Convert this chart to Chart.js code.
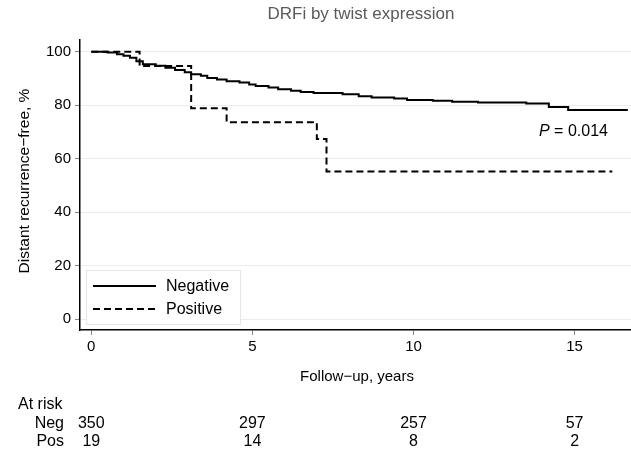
<!DOCTYPE html>
<html lang="en">
<head>
    <meta charset="UTF-8">
    <title>DRFi by twist expression</title>
    <script src="https://cdn.jsdelivr.net/npm/chart.js"></script>
    <style>
        body { margin: 0; background: #fff; }
        #wrap { width: 631px; height: 450px; }
    </style>
</head>
<body>
    <div id="wrap"><canvas id="kmChart" width="631" height="450"></canvas></div>
    <script>
        // Kaplan-Meier steps (time in years, survival in %)
        const negTimes = [0, 0.5, 0.8, 1.0, 1.2, 1.4, 1.6, 2.0, 2.3, 2.6, 2.9, 3.1, 3.4, 3.6, 3.9, 4.2, 4.6, 4.9, 5.1, 5.5, 5.8, 6.2, 6.5, 6.9, 7.8, 8.3, 8.7, 9.4, 9.8, 10.6, 11.2, 12.0, 13.5, 14.2, 14.8, 16.65];
        const negSurv  = [100, 99.7, 99.1, 98.5, 97.8, 96.5, 95.3, 94.8, 94.0, 93.2, 92.3, 91.6, 91.0, 90.2, 89.6, 89.0, 88.5, 87.8, 87.2, 86.6, 86.0, 85.4, 85.0, 84.6, 84.1, 83.4, 82.9, 82.5, 82.0, 81.7, 81.3, 81.0, 80.7, 79.4, 78.2, 78.2];
        const posTimes = [0, 1.5, 3.1, 4.2, 7.0, 7.3, 16.17];
        const posSurv  = [100, 94.7, 78.9, 73.7, 67.4, 55.2, 55.2];

        const xTicks = [0, 5, 10, 15];
        const yTicks = [0, 20, 40, 60, 80, 100];

        // numbers at risk
        const riskTimes = [0, 5, 10, 15];
        const negAtRisk = [350, 297, 257, 57];
        const posAtRisk = [19, 14, 8, 2];

        const FONT = "'Liberation Sans', Arial, sans-serif";

        function toPoints(ts, vs) {
            return ts.map((t, i) => ({ x: t, y: vs[i] }));
        }

        // title, legend, P value and at-risk table
        const extras = {
            id: 'extras',
            afterDraw(chart) {
                const c = chart.ctx;
                const xs = chart.scales.x;
                c.save();
                c.textBaseline = 'middle';

                // title
                c.fillStyle = '#5a5a5a';
                c.font = '17px ' + FONT;
                c.textAlign = 'center';
                c.fillText('DRFi by twist expression', 361, 14);

                // axis titles
                c.fillStyle = '#000';
                c.font = '15px ' + FONT;
                c.fillText('Follow\u2212up, years', 357, 377);
                c.save();
                c.translate(25, 181);
                c.rotate(-Math.PI / 2);
                c.font = '15.5px ' + FONT;
                c.fillText('Distant recurrence\u2212free, %', 0, 0);
                c.restore();

                // P value
                c.textAlign = 'left';
                c.font = 'italic 16px ' + FONT;
                c.fillText('P', 539, 132);
                const pw = c.measureText('P').width;
                c.font = '16px ' + FONT;
                c.fillText(' = 0.014', 539 + pw, 132);

                // legend
                c.fillStyle = '#fff';
                c.strokeStyle = '#e6e6e6';
                c.lineWidth = 1;
                c.fillRect(86.5, 270.5, 154, 54);
                c.strokeRect(86.5, 270.5, 154, 54);
                c.strokeStyle = '#000';
                c.lineWidth = 2;
                c.beginPath();
                c.moveTo(93, 286); c.lineTo(156, 286);
                c.stroke();
                c.setLineDash([7, 4]);
                c.beginPath();
                c.moveTo(93, 309); c.lineTo(156, 309);
                c.stroke();
                c.setLineDash([]);
                c.fillStyle = '#000';
                c.font = '16px ' + FONT;
                c.fillText('Negative', 166, 287);
                c.fillText('Positive', 166, 310);

                // at risk table
                c.font = '16px ' + FONT;
                c.fillText('At risk', 18, 405);
                c.textAlign = 'right';
                c.fillText('Neg', 64, 424);
                c.fillText('Pos', 64, 442);
                c.textAlign = 'center';
                riskTimes.forEach((t, i) => {
                    const px = xs.getPixelForValue(t);
                    c.fillText(String(negAtRisk[i]), px, 424);
                    c.fillText(String(posAtRisk[i]), px, 442);
                });
                c.restore();
            }
        };

        const ctx = document.getElementById('kmChart').getContext('2d');
        new Chart(ctx, {
            type: 'line',
            data: {
                datasets: [{
                    label: 'Negative',
                    data: toPoints(negTimes, negSurv),
                    borderColor: '#000',
                    borderWidth: 2,
                    stepped: 'before',
                    pointRadius: 0,
                    fill: false
                }, {
                    label: 'Positive',
                    data: toPoints(posTimes, posSurv),
                    borderColor: '#000',
                    borderWidth: 2,
                    borderDash: [7, 4],
                    stepped: 'before',
                    pointRadius: 0,
                    fill: false
                }]
            },
            options: {
                responsive: false,
                animation: false,
                layout: { padding: { top: 40, left: 0, right: 0, bottom: 0 } },
                plugins: {
                    legend: { display: false },
                    title: { display: false },
                    tooltip: { enabled: false }
                },
                scales: {
                    x: {
                        type: 'linear',
                        min: -0.35,
                        max: 16.75,
                        afterBuildTicks: (s) => { s.ticks = xTicks.map(v => ({ value: v })); },
                        afterFit: (s) => { s.height = 120; },
                        grid: { drawOnChartArea: false, tickLength: 5, tickColor: '#888' },
                        border: { color: '#000', width: 1.5 },
                        ticks: { color: '#000', padding: 3, font: { family: FONT, size: 15 } }
                    },
                    y: {
                        min: -4.0,
                        max: 104.4,
                        afterBuildTicks: (s) => { s.ticks = yTicks.map(v => ({ value: v })); },
                        afterFit: (s) => { s.width = 80; },
                        grid: { color: '#ececec', tickLength: 5, tickColor: '#888' },
                        border: { color: '#000', width: 1.5 },
                        ticks: { color: '#000', padding: 4, font: { family: FONT, size: 15 } }
                    }
                }
            },
            plugins: [extras]
        });
    </script>
</body>
</html>
